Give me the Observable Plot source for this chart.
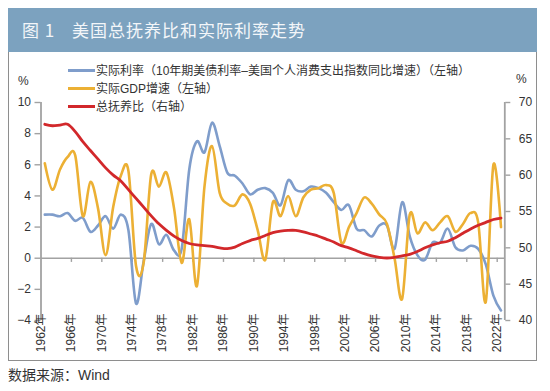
<!DOCTYPE html>
<html><head><meta charset="utf-8">
<script src="https://cdn.jsdelivr.net/npm/d3@7"></script>
<script src="https://cdn.jsdelivr.net/npm/@observablehq/plot@0.6"></script>
<style>
body{margin:0;background:#fff;width:550px;height:391px;position:relative;overflow:hidden;font-family:"Liberation Sans","Noto Sans CJK SC",sans-serif;color:#333;}
#titlebar{position:absolute;left:8px;top:8px;width:529px;height:44px;background:#7ca2bf;color:#f3f6f9;font-family:"Noto Sans CJK SC",sans-serif;font-size:17px;line-height:44px;letter-spacing:1px;white-space:nowrap;}
#titlebar .n{position:absolute;left:14px;}
#titlebar .t{position:absolute;left:64px;}
#panel{position:absolute;left:8px;top:52px;width:529px;height:309px;box-sizing:border-box;border:1px solid #8e8e8e;border-top:none;}
#chart{position:absolute;left:0;top:52px;}
#legend{position:absolute;left:68px;top:62px;font-size:12px;line-height:18px;font-family:"Liberation Sans","Noto Sans CJK SC",sans-serif;color:#333;white-space:nowrap;}
#legend .sw{display:inline-block;width:27px;height:3px;vertical-align:middle;margin-right:1px;position:relative;top:-1px;}
.pct{position:absolute;font-size:12px;color:#333;}
#source{position:absolute;left:8px;top:364px;font-size:14px;color:#333;font-family:"Liberation Sans","Noto Sans CJK SC",sans-serif;}
</style></head>
<body>
<div id="titlebar"><span class="n">图 1</span><span class="t">美国总抚养比和实际利率走势</span></div>
<div id="panel"></div>
<div id="chart"></div>
<div id="legend"></div>
<div class="pct" style="left:18px;top:74px;">%</div>
<div class="pct" style="left:516px;top:72px;">%</div>
<div id="source">数据来源：Wind</div>
<script>
const years = d3.range(1962, 2023);
const realRate = [2.8,2.8,2.7,2.9,2.4,2.6,1.7,2.1,2.7,1.9,2.8,1.8,-2.9,-0.2,2.2,0.9,1.5,0.5,0.6,5.7,
  7.5,6.8,8.7,7.2,5.5,5.3,4.8,4.1,4.4,4.5,4.2,3.4,5.0,4.4,4.3,4.6,4.5,4.2,3.6,3.1,
  3.4,1.9,1.8,1.4,2.1,2.1,0.6,3.6,1.4,0.2,-0.1,1.0,1.0,1.9,0.7,0.5,0.8,0.6,-0.4,-2.4,-3.35];
const gdpGrowth = [6.1,4.4,5.7,6.5,6.6,2.7,4.9,3.2,0.2,3.3,5.3,5.6,-0.5,-0.3,5.4,4.6,5.5,3.2,-0.3,2.5,
  -1.8,4.6,7.2,4.2,3.5,3.4,4.1,3.5,1.8,-0.1,3.6,2.7,4.0,2.7,3.9,4.4,4.5,4.7,4.2,1.0,
  2.0,2.9,3.9,3.5,2.8,2.2,0.0,-2.6,2.8,1.6,2.3,1.8,2.3,2.7,1.7,2.2,2.9,2.3,-2.8,6.0,2.0];
const dependencyRatio = [67.0,66.8,66.9,67.0,66.0,64.6,63.4,62.2,61.0,60.0,59.2,58.0,56.8,55.6,54.4,53.3,52.4,51.6,51.0,50.6,
  50.4,50.3,50.2,50.0,49.9,50.1,50.6,51.0,51.3,51.7,52.1,52.3,52.4,52.4,52.2,51.9,51.6,51.2,50.8,50.3,
  50.0,49.6,49.2,48.9,48.7,48.6,48.7,48.9,49.1,49.5,50.0,50.4,50.7,50.9,51.4,52.0,52.6,53.1,53.5,53.9,54.1];
const seriesNames = ["实际利率（10年期美债利率–美国个人消费支出指数同比增速）（左轴）","实际GDP增速（左轴）","总抚养比（右轴）"];
const seriesColors = ["#7f9dcb","#ecb034","#d2282b"];
const labelYears = d3.range(1962, 2023, 4);
const leftTicks = [-4,-2,0,2,4,6,8,10];
const rightTicks = [40,45,50,55,60,65,70];
const leftDomain = [-4, 10], rightDomain = [40, 70];
const toLeft = r => leftDomain[0] + (r - rightDomain[0]) * (leftDomain[1] - leftDomain[0]) / (rightDomain[1] - rightDomain[0]);
const toRight = l => rightDomain[0] + (l - leftDomain[0]) * (rightDomain[1] - rightDomain[0]) / (leftDomain[1] - leftDomain[0]);

const rows = years.map((y, i) => ({year: y, real: realRate[i], gdp: gdpGrowth[i], dep: toLeft(dependencyRatio[i])}));
const xDomain = [years[0] - 0.5, years[years.length - 1] + 0.5];
const axisGray = "#a2a2a2";

const chart = Plot.plot({
  width: 550, height: 309,
  marginLeft: 40.5, marginRight: 45.7, marginTop: 50, marginBottom: 41,
  x: {type: "linear", domain: xDomain, axis: null},
  y: {domain: leftDomain, axis: null, label: null},
  style: {fontFamily: '"Liberation Sans","Noto Sans CJK SC",sans-serif', fontSize: "12px", color: "#333", background: "transparent", overflow: "visible"},
  marks: [
    Plot.ruleY([0], {stroke: axisGray, strokeWidth: 1.6}),
    Plot.ruleX(labelYears.slice(1), {x: d => d - 0.5, y1: 0, y2: -0.27, stroke: axisGray, strokeWidth: 1.4}),
    Plot.ruleX([xDomain[0]], {y1: leftDomain[0], y2: leftDomain[1], stroke: axisGray, strokeWidth: 1.8}),
    Plot.ruleX([xDomain[1]], {y1: leftDomain[0], y2: leftDomain[1], stroke: axisGray, strokeWidth: 1.8}),
    Plot.axisY({ticks: leftTicks, anchor: "left", tickSize: 6, tickPadding: 4, stroke: axisGray, strokeWidth: 1.4, fill: "#333", label: null, tickFormat: d => d < 0 ? "−" + Math.abs(d) : String(d)}),
    Plot.axisY({ticks: rightTicks.map(toLeft), anchor: "right", tickSize: 5, tickPadding: 9, stroke: axisGray, strokeWidth: 1.4, fill: "#333", label: null, tickFormat: d => String(Math.round(toRight(d)))}),
    Plot.line(rows, {x: "year", y: "real", stroke: seriesColors[0], strokeWidth: 2.6, curve: "cardinal"}),
    Plot.line(rows, {x: "year", y: "gdp", stroke: seriesColors[1], strokeWidth: 2.6, curve: "cardinal"}),
    Plot.line(rows, {x: "year", y: "dep", stroke: seriesColors[2], strokeWidth: 2.8, curve: "cardinal"}),
    Plot.text(labelYears, {x: d => d, frameAnchor: "bottom", text: d => d + "年", rotate: -90, textAnchor: "end", dy: -7, fontSize: 12, fill: "#333"})
  ]
});
document.getElementById("chart").appendChild(chart);

const legend = document.getElementById("legend");
seriesNames.forEach((name, i) => {
  const row = document.createElement("div");
  const sw = document.createElement("span");
  sw.className = "sw"; sw.style.background = seriesColors[i];
  row.appendChild(sw);
  row.appendChild(document.createTextNode(name));
  legend.appendChild(row);
});
</script>
</body></html>
